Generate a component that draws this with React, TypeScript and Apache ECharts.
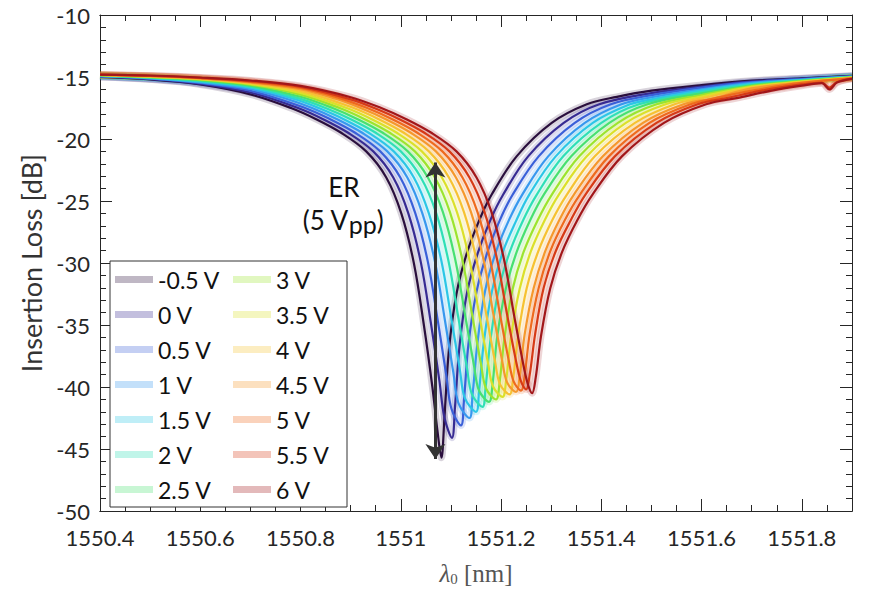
import React, { useEffect, useRef } from 'react';
import * as echarts from 'echarts';

// Legend names (bias voltages)
const voltages = ['-0.5 V', '0 V', '0.5 V', '1 V', '1.5 V', '2 V', '2.5 V', '3 V', '3.5 V', '4 V', '4.5 V', '5 V', '5.5 V', '6 V'];

// Jet-like colour order
const colors = ['#2a0f3d', '#372b92', '#3a60d8', '#3898ee', '#2cc6e6', '#2fdfb6', '#48e070', '#9ce42e', '#dbe02a', '#f6c232', '#f5982c', '#ee6a1e', '#d63a16', '#a2171a'];

// X axis tick labels every 0.2 nm, Y ticks every 5 dB
const xTickLabels = ['1550.4', '1550.6', '1550.8', '1551', '1551.2', '1551.4', '1551.6', '1551.8'];
const yTickLabels = ['-50', '-45', '-40', '-35', '-30', '-25', '-20', '-15', '-10'];

// Insertion-loss traces [wavelength nm, dB]
const trace_m05 = [[1550.4,-15.0],[1550.5,-15.2],[1550.6,-15.6],[1550.7,-16.4],[1550.781,-17.5],[1550.831,-18.4],[1550.881,-19.5],[1550.931,-21.0],[1550.971,-23.1],[1551.001,-26.0],[1551.026,-30.0],[1551.046,-35.0],[1551.063,-40.0],[1551.073,-43.5],[1551.081,-45.7],[1551.087,-42.5],[1551.096,-37.0],[1551.111,-32.5],[1551.131,-29.3],[1551.156,-26.6],[1551.181,-24.5],[1551.231,-21.4],[1551.301,-18.7],[1551.371,-17.2],[1551.431,-16.6],[1551.5,-16.1],[1551.6,-15.65],[1551.7,-15.3],[1551.8,-15.1],[1551.9,-14.9]];
const trace_0 = [[1550.4,-14.98],[1550.5,-15.17],[1550.6,-15.55],[1550.7,-16.25],[1550.795,-17.5],[1550.845,-18.4],[1550.895,-19.5],[1550.945,-21.0],[1550.985,-23.1],[1551.015,-26.0],[1551.04,-29.95],[1551.06,-34.84],[1551.077,-39.51],[1551.087,-42.46],[1551.102,-44.1],[1551.108,-41.66],[1551.117,-36.74],[1551.132,-32.41],[1551.153,-29.26],[1551.178,-26.6],[1551.204,-24.5],[1551.254,-21.4],[1551.325,-18.7],[1551.396,-17.2],[1551.5,-16.3],[1551.6,-15.78],[1551.7,-15.36],[1551.8,-15.13],[1551.9,-14.92]];
const trace_05 = [[1550.4,-14.96],[1550.5,-15.14],[1550.6,-15.48],[1550.7,-16.11],[1550.809,-17.5],[1550.859,-18.4],[1550.909,-19.5],[1550.959,-21.0],[1550.999,-23.1],[1551.029,-26.0],[1551.054,-29.91],[1551.074,-34.71],[1551.091,-39.13],[1551.101,-41.75],[1551.12,-43.1],[1551.126,-41.06],[1551.135,-36.53],[1551.151,-32.33],[1551.172,-29.22],[1551.197,-26.6],[1551.223,-24.5],[1551.275,-21.4],[1551.347,-18.7],[1551.419,-17.2],[1551.5,-16.46],[1551.6,-15.86],[1551.7,-15.42],[1551.8,-15.17],[1551.9,-14.94]];
const trace_1 = [[1550.4,-14.94],[1550.5,-15.11],[1550.6,-15.43],[1550.7,-15.97],[1550.77,-16.73],[1550.823,-17.5],[1550.873,-18.4],[1550.923,-19.5],[1550.973,-21.0],[1551.013,-23.1],[1551.043,-26.0],[1551.068,-29.87],[1551.088,-34.62],[1551.105,-38.88],[1551.115,-41.31],[1551.137,-42.5],[1551.143,-40.68],[1551.153,-36.4],[1551.168,-32.28],[1551.189,-29.19],[1551.215,-26.6],[1551.242,-24.5],[1551.294,-21.4],[1551.367,-18.7],[1551.44,-17.2],[1551.5,-16.63],[1551.6,-15.99],[1551.7,-15.48],[1551.8,-15.2],[1551.9,-14.96]];
const trace_15 = [[1550.4,-14.92],[1550.5,-15.07],[1550.6,-15.38],[1550.7,-15.86],[1550.8,-16.93],[1550.836,-17.5],[1550.886,-18.4],[1550.936,-19.5],[1550.986,-21.0],[1551.026,-23.1],[1551.056,-26.0],[1551.081,-29.84],[1551.101,-34.53],[1551.118,-38.66],[1551.128,-40.92],[1551.15,-42.0],[1551.156,-40.34],[1551.166,-36.27],[1551.182,-32.23],[1551.203,-29.17],[1551.23,-26.6],[1551.256,-24.5],[1551.309,-21.4],[1551.383,-18.7],[1551.457,-17.2],[1551.5,-16.8],[1551.6,-16.08],[1551.7,-15.55],[1551.8,-15.24],[1551.9,-14.98]];
const trace_2 = [[1550.4,-14.9],[1550.5,-15.05],[1550.6,-15.32],[1550.7,-15.78],[1550.8,-16.76],[1550.85,-17.5],[1550.9,-18.4],[1550.95,-19.5],[1551.0,-21.0],[1551.04,-23.1],[1551.07,-25.9],[1551.095,-29.82],[1551.115,-34.46],[1551.132,-38.47],[1551.142,-40.6],[1551.163,-41.6],[1551.169,-40.07],[1551.179,-36.16],[1551.195,-32.19],[1551.217,-29.15],[1551.244,-26.55],[1551.271,-24.5],[1551.324,-21.4],[1551.4,-18.7],[1551.475,-17.2],[1551.6,-16.2],[1551.7,-15.61],[1551.8,-15.27],[1551.9,-15.0]];
const trace_25 = [[1550.4,-14.87],[1550.5,-15.03],[1550.6,-15.26],[1550.7,-15.7],[1550.8,-16.59],[1550.864,-17.5],[1550.914,-18.4],[1550.964,-19.5],[1551.014,-21.0],[1551.054,-23.1],[1551.084,-25.9],[1551.109,-29.79],[1551.129,-34.38],[1551.146,-38.27],[1551.156,-40.28],[1551.176,-41.2],[1551.183,-39.78],[1551.192,-36.04],[1551.209,-32.14],[1551.231,-29.12],[1551.258,-26.55],[1551.285,-24.5],[1551.34,-21.4],[1551.416,-18.7],[1551.492,-17.2],[1551.6,-16.32],[1551.7,-15.67],[1551.8,-15.31],[1551.9,-15.02]];
const trace_3 = [[1550.4,-14.85],[1550.5,-15.0],[1550.6,-15.21],[1550.7,-15.61],[1550.8,-16.42],[1550.878,-17.5],[1550.928,-18.4],[1550.978,-19.5],[1551.028,-21.0],[1551.068,-23.1],[1551.098,-25.9],[1551.123,-29.78],[1551.143,-34.34],[1551.16,-38.17],[1551.17,-40.12],[1551.19,-41.0],[1551.197,-39.64],[1551.207,-35.98],[1551.223,-32.11],[1551.245,-29.11],[1551.273,-26.55],[1551.301,-24.5],[1551.356,-21.4],[1551.433,-18.7],[1551.51,-17.2],[1551.6,-16.45],[1551.7,-15.73],[1551.8,-15.34],[1551.9,-15.03]];
const trace_35 = [[1550.4,-14.84],[1550.5,-14.98],[1550.6,-15.18],[1550.7,-15.55],[1550.8,-16.28],[1550.892,-17.5],[1550.942,-18.4],[1550.992,-19.5],[1551.042,-21.0],[1551.082,-23.1],[1551.112,-25.9],[1551.137,-29.76],[1551.157,-34.29],[1551.174,-38.06],[1551.184,-39.96],[1551.203,-40.8],[1551.21,-39.49],[1551.22,-35.91],[1551.237,-32.09],[1551.259,-29.1],[1551.287,-26.55],[1551.315,-24.5],[1551.371,-21.4],[1551.449,-18.7],[1551.528,-17.2],[1551.6,-16.57],[1551.7,-15.79],[1551.8,-15.38],[1551.9,-15.05]];
const trace_4 = [[1550.4,-14.84],[1550.5,-14.96],[1550.6,-15.15],[1550.7,-15.5],[1550.8,-16.12],[1550.906,-17.5],[1550.956,-18.4],[1551.006,-19.5],[1551.056,-21.0],[1551.096,-23.1],[1551.126,-25.9],[1551.151,-29.74],[1551.171,-34.25],[1551.188,-37.95],[1551.198,-39.79],[1551.217,-40.6],[1551.224,-39.34],[1551.234,-35.85],[1551.251,-32.06],[1551.274,-29.08],[1551.302,-26.55],[1551.331,-24.5],[1551.387,-21.4],[1551.467,-18.7],[1551.546,-17.2],[1551.6,-16.72],[1551.7,-15.85],[1551.8,-15.41],[1551.9,-15.07]];
const trace_45 = [[1550.4,-14.83],[1550.5,-14.94],[1550.6,-15.12],[1550.7,-15.44],[1550.8,-15.98],[1550.87,-16.76],[1550.92,-17.5],[1550.97,-18.4],[1551.02,-19.5],[1551.07,-21.0],[1551.11,-23.1],[1551.14,-25.9],[1551.165,-29.72],[1551.185,-34.2],[1551.202,-37.84],[1551.212,-39.63],[1551.23,-40.4],[1551.237,-39.19],[1551.247,-35.78],[1551.265,-32.03],[1551.288,-29.07],[1551.316,-26.55],[1551.345,-24.5],[1551.403,-21.4],[1551.483,-18.7],[1551.564,-17.2],[1551.62,-16.75],[1551.7,-15.92],[1551.8,-15.45],[1551.9,-15.09]];
const trace_5 = [[1550.4,-14.82],[1550.5,-14.92],[1550.6,-15.09],[1550.7,-15.39],[1550.8,-15.88],[1550.87,-16.6],[1550.933,-17.5],[1550.983,-18.4],[1551.033,-19.5],[1551.083,-21.0],[1551.123,-23.1],[1551.153,-25.9],[1551.178,-29.71],[1551.198,-34.17],[1551.215,-37.79],[1551.225,-39.54],[1551.24,-40.3],[1551.247,-39.11],[1551.257,-35.74],[1551.275,-32.02],[1551.298,-29.06],[1551.327,-26.55],[1551.357,-24.5],[1551.415,-21.4],[1551.496,-18.7],[1551.578,-17.2],[1551.64,-16.6],[1551.7,-16.1],[1551.8,-15.48],[1551.9,-15.11]];
const trace_55 = [[1550.4,-14.81],[1550.5,-14.9],[1550.6,-15.07],[1550.7,-15.33],[1550.8,-15.8],[1550.9,-16.8],[1550.947,-17.5],[1550.997,-18.4],[1551.047,-19.5],[1551.097,-21.0],[1551.137,-23.1],[1551.167,-25.9],[1551.192,-29.7],[1551.212,-34.15],[1551.229,-37.73],[1551.239,-39.46],[1551.25,-40.2],[1551.257,-39.04],[1551.268,-35.71],[1551.285,-32.0],[1551.309,-29.05],[1551.339,-26.55],[1551.368,-24.5],[1551.427,-21.4],[1551.51,-18.7],[1551.592,-17.2],[1551.65,-16.7],[1551.72,-16.1],[1551.8,-15.6],[1551.84,-15.45],[1551.855,-15.85],[1551.87,-15.4],[1551.9,-15.13]];
const trace_6 = [[1550.4,-14.81],[1550.5,-14.88],[1550.6,-15.04],[1550.7,-15.28],[1550.8,-15.72],[1550.9,-16.63],[1550.961,-17.5],[1551.011,-18.4],[1551.061,-19.5],[1551.111,-21.0],[1551.151,-23.1],[1551.181,-25.9],[1551.206,-29.73],[1551.226,-34.22],[1551.243,-37.9],[1551.253,-39.71],[1551.262,-40.5],[1551.269,-39.27],[1551.28,-35.81],[1551.298,-32.05],[1551.322,-29.08],[1551.352,-26.55],[1551.382,-24.5],[1551.441,-21.4],[1551.525,-18.7],[1551.609,-17.2],[1551.67,-16.7],[1551.74,-16.1],[1551.8,-15.7],[1551.84,-15.5],[1551.855,-16.0],[1551.87,-15.45],[1551.9,-15.15]];

const traces = [trace_m05, trace_0, trace_05, trace_1, trace_15, trace_2, trace_25, trace_3, trace_35, trace_4, trace_45, trace_5, trace_55, trace_6];

// ER arrow endpoints (x, top dB, bottom dB)
const erArrowX = 1551.069;
const erArrowTop = -21.9;
const erArrowBottom = -45.8;

function rgba(hex: string, a: number) {
  const r = parseInt(hex.slice(1, 3), 16);
  const g = parseInt(hex.slice(3, 5), 16);
  const b = parseInt(hex.slice(5, 7), 16);
  return `rgba(${r},${g},${b},${a})`;
}

const FONT = 'Lato';
const AX = '#262626';

export default function App() {
  const ref = useRef<HTMLDivElement>(null);
  useEffect(() => {
    const chart = echarts.init(ref.current!, null, { renderer: 'svg' });
    const series: any[] = [];
    traces.forEach((t, i) => {
      series.push({
        name: voltages[i], type: 'line', data: t, showSymbol: false, smooth: 0.35,
        lineStyle: { color: colors[i], width: 7, opacity: 0.18 }, itemStyle: { color: colors[i] }, z: 2, silent: true,
      });
    });
    traces.forEach((t, i) => {
      series.push({
        name: voltages[i] + ' fit', type: 'line', data: t, showSymbol: false, smooth: 0.35,
        lineStyle: { color: colors[i], width: 2.2 }, itemStyle: { color: colors[i] }, z: 3, silent: true,
      });
    });
    series.push({
      name: 'ER', type: 'line', data: [], z: 6, silent: true,
      markLine: {
        silent: true, symbol: ['arrow', 'arrow'], symbolSize: [15, 15], precision: 3,
        label: { show: false }, lineStyle: { color: '#333', width: 3, type: 'solid' },
        data: [[{ coord: [erArrowX, erArrowTop] }, { coord: [erArrowX, erArrowBottom] }]],
      },
    });

    const legendCommon = {
      orient: 'vertical', itemGap: 12, itemWidth: 38, itemHeight: 7, icon: 'rect', padding: 0,
      selectedMode: false, textStyle: { fontSize: 23, fontFamily: FONT, color: '#111' },
    };
    const xFmt = (v: number) => String(Math.round(v * 10) / 10);
    const baseX = { type: 'value', min: 1550.4, max: 1551.9, splitLine: { show: false }, axisLine: { lineStyle: { color: AX, width: 1 } } };
    const baseY = { type: 'value', min: -50, max: -10, interval: 5, splitLine: { show: false }, axisLine: { lineStyle: { color: AX, width: 1 } } };

    chart.setOption({
      animation: false,
      backgroundColor: '#fff',
      grid: { left: 100, right: 20, top: 15, bottom: 74, containLabel: false },
      xAxis: [
        { ...baseX, position: 'bottom', interval: 0.2,
          axisTick: { inside: true, length: 12, lineStyle: { color: AX } },
          axisLabel: { formatter: xFmt, fontSize: 22, fontFamily: FONT, color: AX, margin: 15, showMaxLabel: false },
          name: '{l|λ}{s|0}{r| [nm]}', nameLocation: 'middle', nameGap: 50,
          nameTextStyle: { color: '#555', rich: {
            l: { fontFamily: 'Liberation Serif', fontSize: 25, fontStyle: 'italic', color: '#555' },
            s: { fontFamily: 'Liberation Serif', fontSize: 15, color: '#555', padding: [10, 0, 0, 0] },
            r: { fontFamily: 'Liberation Serif', fontSize: 25, color: '#555' } } } },
        { ...baseX, position: 'bottom', interval: 0.05, axisTick: { inside: true, length: 6, lineStyle: { color: AX } }, axisLabel: { show: false } },
        { ...baseX, position: 'top', interval: 0.2, axisTick: { inside: true, length: 12, lineStyle: { color: AX } }, axisLabel: { show: false } },
        { ...baseX, position: 'top', interval: 0.05, axisTick: { inside: true, length: 6, lineStyle: { color: AX } }, axisLabel: { show: false } },
      ],
      yAxis: [
        { ...baseY, position: 'left',
          axisTick: { inside: true, length: 12, lineStyle: { color: AX } },
          minorTick: { show: true, splitNumber: 5, length: 6, lineStyle: { color: AX } },
          axisLabel: { fontSize: 22, fontFamily: FONT, color: AX, margin: 10 },
          name: 'Insertion Loss [dB]', nameLocation: 'middle', nameGap: 49, nameRotate: 90,
          nameTextStyle: { fontSize: 27, fontFamily: FONT, color: '#333' } },
        { ...baseY, position: 'right',
          axisTick: { inside: true, length: 12, lineStyle: { color: AX } },
          minorTick: { show: true, splitNumber: 5, length: 6, lineStyle: { color: AX } },
          axisLabel: { show: false } },
      ],
      legend: [
        { ...legendCommon, left: 115, top: 268, data: voltages.slice(0, 7).map((n, i) => ({ name: n, itemStyle: { color: rgba(colors[i], 0.3) } })) },
        { ...legendCommon, left: 233, top: 268, data: voltages.slice(7).map((n, i) => ({ name: n, itemStyle: { color: rgba(colors[i + 7], 0.3) } })) },
      ],
      graphic: [
        { type: 'rect', z: 1, shape: { x: 110, y: 261, width: 237, height: 246 }, style: { fill: '#fff', stroke: '#333', lineWidth: 1 } },
        { type: 'text', z: 10, x: 344, y: 187, style: { text: 'ER', font: `26px ${FONT}`, fill: '#111', align: 'center', verticalAlign: 'middle' } },
        { type: 'text', z: 10, x: 343, y: 220, style: {
          text: '{a|(5 V}{b|pp}{a|)}', align: 'center', verticalAlign: 'middle',
          rich: {
            a: { fontSize: 26, fontFamily: FONT, fill: '#111', color: '#111' },
            b: { fontSize: 25, fontFamily: FONT, fill: '#111', color: '#111', padding: [8, 0, 0, 0] },
          } } },
      ],
      series,
    });
    return () => chart.dispose();
  }, []);
  return <div ref={ref} style={{ position: 'fixed', left: 0, top: 0, width: 872, height: 591, background: '#fff' }} />;
}
